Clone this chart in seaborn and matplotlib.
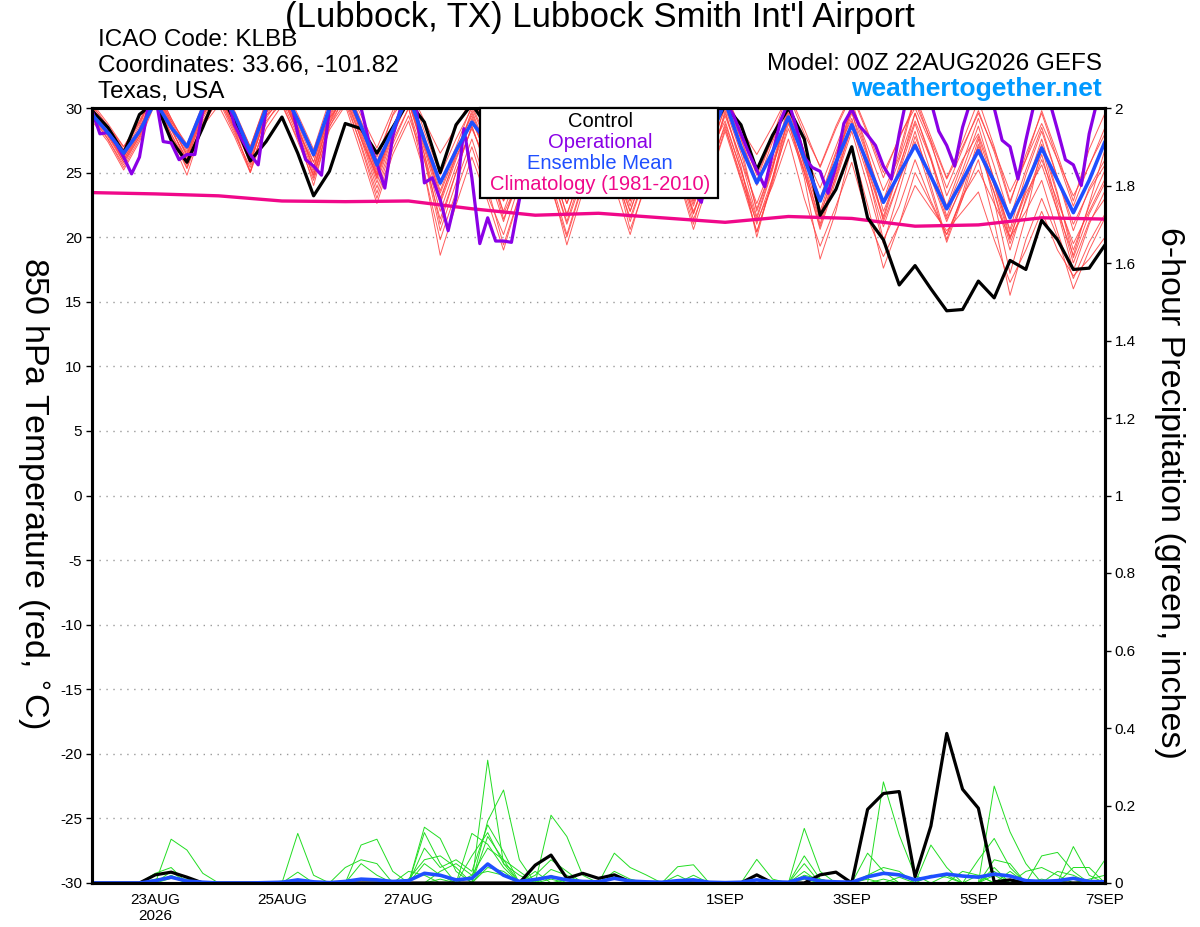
import numpy as np
import pandas as pd
import matplotlib
matplotlib.use("Agg")
import matplotlib.pyplot as plt
from matplotlib.patches import Rectangle
import seaborn as sns

# ---- data ----
start = "2026-08-22 00:00"

# control run, 6-hourly 850 hPa temperature (C)
control_t = [29.8, 28.5, 26.5, 29.5, 30.5, 27.5, 25.8, 28.5, 31.5, 29.0, 25.9, 27.4, 29.3, 26.5, 23.2, 25.1,
             28.8, 28.4, 26.5, 28.5, 30.5, 28.9, 25.0, 28.7, 30.3, 28.5, 26.0, 28.5, 30.5, 29.0, 26.0, 28.0,
             30.5, 29.0, 25.5, 28.0, 30.5, 29.0, 25.5, 28.0, 30.2, 28.7, 25.2, 27.9, 30.0, 27.6, 21.7, 23.7,
             27.0, 21.5, 19.8, 16.3, 17.8, 16.0, 14.3, 14.4, 16.6, 15.3, 18.2, 17.5, 21.3, 19.8, 17.5, 17.6,
             19.4]

# ensemble mean, 6-hourly
mean_t = [29.5, 28.1, 26.5, 28.2, 30.5, 28.5, 27.0, 30.0, 31.5, 29.5, 26.6, 30.0, 31.5, 29.1, 26.4, 30.0,
          31.5, 28.6, 25.6, 28.3, 31.0, 27.5, 24.2, 26.7, 28.9, 27.3, 25.5, 27.5, 29.5, 28.0, 25.5, 27.5,
          30.0, 28.0, 25.5, 27.5, 30.0, 28.0, 25.5, 27.5, 30.5, 27.0, 24.2, 26.6, 29.3, 26.1, 22.8, 25.8,
          28.7, 25.7, 22.7, 24.9, 27.1, 24.7, 22.2, 24.4, 26.7, 24.3, 21.5, 24.0, 26.9, 24.4, 21.9, 24.4,
          27.4]

# operational run, 3-hourly
oper_t = [29.8, 28.0, 28.1, 27.3, 26.2, 24.9, 26.2, 29.8, 31.0, 27.4, 27.3, 26.0, 26.4, 26.4, 29.8, 31.0,
          31.5, 31.0, 28.7, 27.5, 26.4, 25.6, 30.0, 31.0, 31.5, 31.0, 28.0, 26.0, 25.5, 24.8, 30.0, 31.0,
          31.5, 31.0, 30.0, 27.4, 25.7, 23.8, 27.8, 30.0, 31.0, 30.0, 24.2, 24.6, 22.9, 20.5, 23.1, 28.4,
          24.6, 19.5, 21.5, 19.7, 19.7, 19.6, 22.9, 26.0, 29.5, 29.0, 27.5, 25.5, 24.5, 25.0, 27.0, 29.0,
          30.5, 30.0, 28.5, 26.5, 25.0, 25.5, 27.5, 29.5, 31.0, 30.5, 28.0, 25.5, 23.5, 22.7, 26.0, 29.5,
          30.5, 29.5, 28.0, 26.5, 25.2, 23.9, 26.5, 29.0, 30.5, 28.5, 26.2, 25.4, 25.1, 23.4, 25.5, 28.8,
          29.9, 28.6, 27.9, 27.1, 25.5, 24.5, 28.0, 31.0, 32.0, 31.5, 30.5, 28.2, 27.1, 25.5, 28.5, 30.5,
          31.5, 31.0, 30.0, 27.5, 27.0, 24.5, 27.5, 30.2, 31.5, 30.5, 28.3, 26.0, 25.6, 24.0, 28.0, 30.5,
          31.0]

# climatology 1981-2010, daily
clim_t = [23.45, 23.35, 23.2, 22.8, 22.75, 22.8, 22.2, 21.7, 21.85, 21.5, 21.15, 21.6, 21.45, 20.85,
          20.95, 21.5, 21.4]

# ensemble members, 6-hourly
member_t = [
    [30.2, 28.6, 27.0, 28.9, 31.5, 29.0, 27.2, 30.3, 32.0, 29.8, 27.0, 30.5, 32.0, 29.5, 26.8, 30.6,
     32.2, 29.4, 26.9, 29.8, 31.6, 29.0, 26.5, 28.5, 30.8, 28.5, 25.8, 28.0, 30.5, 28.6, 25.0, 28.4,
     31.0, 28.8, 25.6, 28.2, 30.6, 28.0, 24.8, 28.5, 31.2, 28.4, 26.4, 28.6, 31.0, 28.0, 25.5, 28.6,
     31.2, 28.2, 25.0, 27.6, 30.4, 27.5, 24.5, 27.0, 29.6, 26.8, 23.5, 26.0, 28.8, 26.0, 23.2, 25.5, 28.5],
    [29.0, 27.4, 25.2, 27.4, 30.4, 27.8, 25.3, 28.6, 30.8, 28.2, 25.1, 29.0, 30.4, 27.4, 24.4, 28.3,
     30.2, 26.5, 22.6, 26.4, 29.0, 25.0, 19.8, 23.5, 27.0, 23.2, 20.2, 24.1, 28.0, 25.0, 21.0, 24.6,
     28.5, 25.0, 21.5, 25.0, 28.2, 25.5, 21.8, 25.2, 28.6, 24.5, 21.2, 24.0, 27.6, 23.0, 19.3, 22.4,
     25.8, 21.5, 18.5, 21.0, 24.0, 22.2, 20.5, 22.0, 23.5, 19.8, 16.5, 19.0, 22.0, 19.0, 17.0, 18.3, 20.0],
    [29.6, 27.9, 26.0, 28.0, 31.0, 28.3, 26.0, 29.4, 31.4, 28.9, 25.6, 29.6, 31.2, 28.5, 25.2, 29.3,
     31.6, 28.0, 24.5, 28.0, 30.5, 26.4, 22.0, 25.5, 28.4, 25.6, 23.0, 26.5, 29.2, 26.2, 22.6, 25.8,
     29.8, 27.2, 23.8, 27.0, 30.2, 27.4, 23.0, 26.8, 30.0, 26.5, 22.2, 25.5, 29.6, 25.5, 21.0, 25.3,
     30.6, 26.5, 22.0, 25.0, 28.8, 25.0, 21.4, 24.0, 27.0, 23.5, 19.5, 22.8, 26.0, 22.8, 19.5, 22.0, 24.5],
    [30.0, 28.4, 26.6, 28.6, 31.8, 29.2, 26.8, 30.0, 32.2, 29.4, 26.4, 30.0, 31.5, 28.0, 24.0, 28.5,
     31.0, 27.6, 23.8, 27.5, 30.0, 25.0, 18.6, 22.5, 26.2, 22.8, 19.0, 23.2, 27.5, 24.4, 20.2, 24.2,
     29.0, 26.0, 22.4, 26.5, 30.8, 27.8, 24.0, 27.6, 31.3, 28.0, 24.8, 27.6, 30.6, 26.6, 22.8, 26.4,
     29.2, 25.4, 21.6, 25.5, 29.0, 26.0, 22.4, 25.8, 29.2, 25.5, 21.5, 25.2, 28.5, 24.6, 20.5, 23.8, 26.0],
    [29.4, 27.6, 25.6, 27.8, 30.8, 28.0, 25.8, 28.8, 30.6, 28.0, 25.4, 28.8, 30.8, 28.2, 25.8, 29.5,
     31.4, 28.6, 25.2, 28.4, 30.6, 27.0, 23.4, 26.5, 29.6, 26.4, 21.8, 24.5, 27.6, 24.2, 19.4, 23.5,
     27.4, 24.0, 20.2, 24.4, 28.8, 25.6, 22.4, 26.0, 29.4, 26.0, 22.6, 25.8, 29.8, 26.5, 23.8, 27.0,
     30.2, 27.0, 23.6, 26.2, 30.8, 27.4, 23.2, 26.0, 28.0, 24.5, 20.4, 23.6, 27.2, 23.2, 19.0, 22.4, 25.2],
    [30.4, 28.8, 27.0, 29.0, 31.6, 29.2, 27.0, 30.2, 31.8, 29.6, 27.0, 30.4, 31.6, 28.8, 25.8, 29.8,
     31.8, 28.8, 25.8, 29.5, 31.8, 28.2, 24.8, 27.6, 30.0, 27.2, 24.6, 27.2, 30.6, 27.6, 24.4, 27.6,
     30.5, 27.0, 23.4, 26.8, 29.8, 26.5, 22.8, 26.2, 30.2, 27.0, 22.0, 25.5, 29.0, 24.6, 18.3, 22.0,
     27.0, 22.5, 17.6, 21.0, 25.0, 22.6, 20.2, 23.0, 26.0, 21.2, 15.5, 19.8, 23.0, 20.0, 16.0, 19.0, 21.5],
    [29.8, 28.2, 26.2, 28.2, 31.2, 28.6, 25.6, 29.2, 31.2, 28.4, 25.0, 29.2, 31.0, 28.0, 24.6, 28.8,
     30.8, 27.0, 23.0, 26.8, 29.4, 26.0, 21.4, 25.0, 28.6, 25.2, 22.0, 25.4, 28.8, 25.4, 21.8, 25.2,
     29.0, 25.4, 20.6, 24.0, 28.4, 25.0, 21.0, 25.4, 29.8, 25.5, 20.0, 24.6, 28.4, 25.0, 20.6, 24.4,
     28.2, 24.0, 19.5, 23.6, 27.8, 24.6, 21.2, 24.2, 26.8, 23.4, 19.0, 23.0, 26.4, 22.0, 17.4, 21.0, 23.6],
    [30.0, 28.4, 26.4, 28.4, 31.0, 28.6, 26.4, 29.8, 31.6, 29.0, 26.0, 29.6, 31.8, 29.0, 26.2, 30.0,
     32.0, 29.0, 26.2, 29.4, 31.2, 27.8, 24.0, 27.0, 30.2, 27.4, 24.6, 27.4, 30.0, 27.4, 24.0, 27.0,
     30.8, 27.8, 24.5, 27.8, 31.0, 28.0, 25.0, 27.2, 30.6, 27.6, 24.4, 27.8, 31.2, 28.4, 25.4, 28.4,
     31.0, 28.0, 24.6, 27.8, 30.0, 27.2, 23.8, 26.8, 29.8, 26.6, 22.6, 26.4, 29.6, 26.0, 22.4, 25.6, 28.0],
    [29.2, 27.6, 25.4, 27.6, 30.6, 27.6, 24.8, 28.6, 30.2, 27.8, 25.0, 28.4, 30.2, 27.6, 24.8, 28.6,
     30.4, 27.2, 23.4, 27.2, 30.0, 26.0, 20.5, 24.2, 27.6, 23.8, 19.4, 23.2, 27.0, 23.8, 20.0, 24.0,
     28.4, 25.2, 22.0, 25.6, 28.8, 24.8, 20.6, 24.5, 28.4, 24.8, 20.4, 24.4, 29.2, 25.0, 20.8, 24.8,
     28.6, 24.8, 20.8, 24.4, 28.2, 24.0, 19.8, 23.4, 27.6, 22.8, 17.2, 21.6, 27.0, 22.4, 18.0, 21.2, 23.0],
    [29.6, 28.0, 26.2, 28.4, 31.4, 29.0, 26.6, 29.8, 31.8, 29.2, 26.6, 30.0, 31.4, 28.6, 25.4, 29.0,
     31.2, 27.8, 24.2, 27.8, 30.8, 26.4, 21.0, 25.0, 28.6, 25.0, 21.2, 25.0, 29.4, 26.0, 21.6, 25.8,
     29.6, 26.4, 22.8, 26.6, 29.4, 26.4, 23.2, 26.6, 29.0, 25.2, 21.4, 25.2, 30.4, 26.4, 21.6, 25.6,
     30.0, 26.4, 22.6, 26.0, 29.6, 26.2, 22.2, 25.2, 28.6, 24.4, 20.0, 23.4, 25.6, 22.0, 18.6, 22.6, 26.8],
    [30.0, 28.2, 26.0, 28.2, 31.2, 28.8, 26.4, 29.6, 31.0, 28.8, 26.6, 30.2, 32.0, 29.2, 26.2, 29.2,
     30.8, 27.6, 24.8, 28.6, 31.2, 27.6, 23.0, 26.2, 29.0, 26.2, 23.4, 26.6, 30.2, 26.8, 23.2, 26.4,
     29.6, 26.0, 22.0, 25.6, 29.2, 25.8, 21.8, 25.6, 29.6, 26.0, 21.6, 25.4, 30.0, 26.2, 22.0, 25.8,
     29.6, 26.2, 21.2, 24.4, 27.4, 23.6, 19.6, 23.0, 27.2, 24.0, 20.6, 24.8, 28.2, 24.6, 21.0, 23.6, 25.6],
    [29.8, 28.0, 25.8, 27.8, 30.6, 28.0, 25.4, 29.0, 30.8, 28.4, 25.8, 29.4, 30.6, 27.8, 24.8, 28.8,
     31.4, 28.4, 25.0, 28.6, 30.4, 26.8, 22.6, 26.0, 29.2, 26.0, 22.8, 26.2, 29.6, 26.4, 23.0, 26.4,
     30.2, 27.0, 23.2, 26.0, 29.0, 25.4, 21.4, 24.4, 28.2, 24.4, 20.4, 24.2, 28.8, 25.2, 21.4, 24.6,
     28.6, 25.6, 22.8, 26.6, 31.0, 27.8, 24.6, 27.4, 30.6, 27.0, 22.8, 26.0, 29.8, 26.4, 22.8, 26.8, 29.6],
    [30.2, 28.6, 26.8, 28.8, 31.4, 28.8, 26.2, 29.6, 31.0, 28.6, 25.8, 29.4, 31.2, 28.4, 25.4, 29.6,
     32.0, 28.6, 24.8, 28.2, 31.0, 27.2, 22.8, 26.4, 29.8, 26.6, 22.8, 25.8, 28.6, 25.8, 22.6, 26.2,
     29.0, 25.6, 21.2, 25.0, 29.6, 26.4, 22.6, 26.4, 31.0, 27.6, 24.0, 27.4, 30.4, 26.6, 23.0, 26.6,
     29.8, 25.0, 19.8, 22.4, 26.0, 22.8, 20.2, 23.2, 25.2, 22.6, 20.0, 22.0, 24.4, 20.4, 16.8, 19.6, 21.8],
    [29.4, 27.8, 25.8, 28.0, 30.8, 28.4, 26.0, 29.4, 31.4, 29.0, 26.2, 29.8, 31.0, 28.2, 25.0, 29.2,
     31.2, 28.2, 24.6, 28.4, 31.0, 27.4, 23.6, 26.8, 29.4, 26.0, 21.4, 24.4, 28.4, 25.0, 21.2, 25.0,
     29.4, 26.2, 22.8, 26.4, 29.8, 26.0, 22.0, 25.0, 28.8, 25.2, 21.0, 24.6, 29.4, 25.6, 21.8, 25.0,
     29.0, 25.2, 21.4, 25.2, 29.6, 26.0, 21.6, 24.8, 27.8, 24.0, 19.8, 23.8, 27.6, 23.4, 18.4, 21.8, 24.2],
]

# 6-hour precipitation (inches)
control_p = [0, 0, 0, 0, .021, .028, .015, 0, 0, 0,
             0, 0, 0, 0, 0, 0, 0, 0, 0, 0,
             0, 0, 0, 0, 0, 0, 0, 0, .046, .072,
             .012, .025, .012, .021, .003, 0, 0, 0, 0, 0,
             0, 0, .021, 0, 0, 0, .021, .028, 0, .19,
             .231, .236, .016, .147, .386, .242, .193, .003, .008, 0,
             0, 0, 0, 0, 0]

mean_p = [0, 0, 0, 0, .006, .015, .005, .002, 0, 0,
          0, .001, .002, .008, .003, .001, .004, .01, .008, .004,
          .006, .025, .02, .008, .012, .049, .02, .004, .009, .016,
          .008, .004, .003, .012, .005, .003, .002, .006, .008, .002,
          .001, .002, .008, .003, .002, .014, .005, .003, .002, .016,
          .025, .021, .008, .016, .023, .018, .015, .023, .018, .006,
          .004, .006, .012, .004, .003]

member_p = [
    [0, 0, 0, 0, 0, .113, .085, .025, 0, 0,
     0, 0, 0, 0, 0, 0, 0, 0, 0, 0,
     0, .144, .115, .03, 0, .317, .05, 0, 0, .175,
     .12, .02, 0, 0, 0, 0, 0, 0, 0, 0,
     0, 0, 0, 0, 0, 0, 0, 0, 0, 0,
     .261, .124, .02, 0, 0, 0, 0, .03, 0, 0,
     0, 0, 0, 0, 0],
    [0, 0, 0, 0, .025, .04, 0, 0, 0, 0,
     0, 0, 0, .128, .02, 0, 0, 0, 0, 0,
     0, 0, 0, 0, 0, .16, .24, .06, 0, 0,
     0, 0, 0, .077, .04, .021, 0, 0, 0, 0,
     0, 0, 0, 0, 0, .141, .03, 0, 0, 0,
     0, 0, 0, 0, 0, 0, 0, .25, .132, .05,
     0, 0, 0, 0, 0],
    [0, 0, 0, 0, 0, 0, 0, 0, 0, 0,
     0, 0, 0, 0, 0, 0, 0, .098, .113, .03,
     0, .13, .05, 0, .128, .10, .04, 0, 0, 0,
     0, 0, 0, 0, 0, 0, 0, .042, .047, 0,
     0, 0, 0, 0, 0, 0, 0, 0, 0, .077,
     .03, 0, 0, 0, 0, 0, 0, 0, 0, 0,
     0, 0, .094, .02, 0],
    [0, 0, 0, 0, 0, .03, 0, 0, 0, 0,
     0, 0, 0, .028, 0, 0, 0, .05, .02, 0,
     0, .09, .04, .06, .03, .15, .08, 0, .02, .06,
     .03, 0, 0, 0, 0, 0, 0, 0, 0, 0,
     0, 0, .061, .01, 0, 0, 0, 0, 0, 0,
     0, 0, 0, .098, .04, 0, 0, 0, 0, 0,
     .07, .079, .03, 0, 0],
    [0, 0, 0, 0, 0, .02, 0, 0, 0, 0,
     0, 0, 0, 0, 0, 0, .04, .06, .05, 0,
     .01, .06, .07, .04, 0, .12, .06, .03, 0, .035,
     .02, 0, 0, 0, 0, 0, 0, 0, 0, 0,
     0, 0, 0, 0, 0, .07, .01, 0, 0, 0,
     0, 0, 0, 0, 0, 0, .06, .115, .04, 0,
     0, 0, 0, 0, .06],
    [0, 0, 0, 0, 0, 0, 0, 0, 0, 0,
     0, 0, 0, 0, 0, 0, 0, 0, 0, 0,
     0, 0, .03, .05, .02, .09, .06, 0, .03, 0,
     0, 0, 0, .03, .01, 0, 0, 0, 0, 0,
     0, 0, 0, 0, 0, .05, 0, 0, 0, .02,
     .04, .03, 0, 0, 0, .03, .02, 0, 0, .03,
     .04, .02, 0, .01, .02],
    [0, 0, 0, 0, 0, 0, 0, 0, 0, 0,
     0, 0, 0, 0, 0, 0, 0, 0, 0, 0,
     0, .05, .02, 0, .07, .13, .05, .02, 0, 0,
     .01, 0, 0, 0, 0, 0, 0, 0, .02, 0,
     0, 0, 0, 0, 0, .02, .01, 0, 0, 0,
     0, .015, 0, 0, .02, 0, 0, .06, .05, 0,
     0, 0, .04, .04, 0],
    [0, 0, 0, 0, .01, .015, 0, 0, 0, 0,
     0, 0, .005, 0, 0, 0, 0, 0, 0, 0,
     .03, .02, 0, 0, 0, .04, .03, 0, 0, .02,
     0, 0, 0, .02, 0, 0, 0, .02, 0, 0,
     0, 0, .02, 0, 0, 0, 0, 0, 0, .01,
     0, 0, 0, .02, .015, 0, .02, 0, .03, 0,
     0, .03, .02, 0, 0],
    [0, 0, 0, 0, 0, .012, .01, 0, 0, 0,
     0, 0, 0, 0, 0, 0, 0, 0, 0, 0,
     0, 0, .01, 0, 0, .05, .02, 0, 0, .01,
     0, 0, 0, 0, 0, 0, 0, 0, 0, 0,
     0, 0, 0, 0, 0, .01, 0, 0, 0, 0,
     .01, 0, 0, 0, 0, 0, 0, .02, 0, 0,
     .01, 0, 0, 0, 0],
    [0, 0, 0, 0, 0, 0, 0, 0, 0, 0,
     0, 0, 0, 0, 0, 0, 0, 0, 0, 0,
     0, 0, 0, 0, .02, .03, .02, 0, 0, 0,
     0, 0, 0, 0, 0, 0, 0, 0, 0, 0,
     0, 0, 0, 0, 0, .03, 0, 0, 0, 0,
     0, 0, 0, 0, 0, 0, 0, .04, 0, 0,
     0, 0, .01, 0, 0],
]

tick_dates = ["2026-08-23", "2026-08-25", "2026-08-27", "2026-08-29",
              "2026-09-01", "2026-09-03", "2026-09-05", "2026-09-07"]
tick_labels = ["23AUG\n2026", "25AUG", "27AUG", "29AUG", "1SEP", "3SEP", "5SEP", "7SEP"]

t6 = pd.date_range(start, periods=len(control_t), freq="6h")
t3 = pd.date_range(start, periods=len(oper_t), freq="3h")
t24 = pd.date_range(start, periods=len(clim_t), freq="1D")

# ---- style ----
sns.set_style("white")
plt.rcParams["font.family"] = ["Liberation Sans", "DejaVu Sans"]
plt.rcParams["axes.unicode_minus"] = False   # plain hyphen like the original
plt.rcParams["text.color"] = "black"
plt.rcParams["xtick.color"] = "black"
plt.rcParams["ytick.color"] = "black"

RED = "#ff4040"
GREEN = "#22dd22"
PURPLE = "#8a00e6"
BLUE = "#1f4fff"
PINK = "#f0088a"

fig = plt.figure(figsize=(12, 9.27), dpi=100)
ax = fig.add_axes([92 / 1200, 44 / 927, 1013 / 1200, 775 / 927])
ax2 = ax.twinx()

# temperature lines
for m in member_t:
    sns.lineplot(x=t6, y=m, ax=ax, color=RED, lw=0.7, alpha=0.85, legend=False)
sns.lineplot(x=t24, y=clim_t, ax=ax, color=PINK, lw=2.4, legend=False)
sns.lineplot(x=t6, y=control_t, ax=ax, color="black", lw=2.3, legend=False)
sns.lineplot(x=t3, y=oper_t, ax=ax, color=PURPLE, lw=2.3, legend=False)
sns.lineplot(x=t6, y=mean_t, ax=ax, color=BLUE, lw=2.6, legend=False)

# precipitation lines
for m in member_p:
    sns.lineplot(x=t6, y=m, ax=ax2, color=GREEN, lw=0.7, legend=False)
sns.lineplot(x=t6, y=control_p, ax=ax2, color="black", lw=2.3, legend=False)
sns.lineplot(x=t6, y=mean_p, ax=ax2, color=BLUE, lw=2.6, legend=False)

ax.set_xlim(pd.Timestamp("2026-08-22"), pd.Timestamp("2026-09-07"))
ax.set_ylim(-30, 30)
ax2.set_ylim(0, 2)

ax.set_yticks(np.arange(-30, 31, 5))
ax.yaxis.grid(True, ls=(0, (1, 4)), color="#9a9a9a", lw=1.0)
ax.xaxis.grid(False)
ax2.set_yticks(np.arange(0, 2.01, 0.2))
ax2.set_yticklabels(["0", "0.2", "0.4", "0.6", "0.8", "1", "1.2", "1.4", "1.6", "1.8", "2"])
ax2.grid(False)

ax.set_xticks(pd.to_datetime(tick_dates))
ax.set_xticklabels(tick_labels)
ax.set_xlabel("")
ax.set_ylabel("")

for a in (ax, ax2):
    for s in a.spines.values():
        s.set_linewidth(2.2)
        s.set_color("black")
ax.tick_params(axis="both", labelsize=11, length=4, width=1, direction="out", color="black", pad=3)
ax2.tick_params(axis="y", labelsize=11, length=4, width=1, direction="out", color="black", pad=3)

# legend box
ax2.add_patch(Rectangle((0.383, 0.884), 0.235, 0.116, transform=ax2.transAxes,
                        facecolor="white", edgecolor="black", lw=1.6, zorder=20, clip_on=False))
for y, txt, col in [(0.983, "Control", "black"), (0.956, "Operational", PURPLE),
                    (0.929, "Ensemble Mean", BLUE), (0.901, "Climatology (1981-2010)", PINK)]:
    ax2.text(0.5015, y, txt, color=col, fontsize=14.5, ha="center", va="center",
             transform=ax2.transAxes, zorder=21)

# header
fig.text(0.5, 1 - 18 / 927, "(Lubbock, TX) Lubbock Smith Int'l Airport", fontsize=25,
         ha="center", va="center")
fig.text(98 / 1200, 1 - 40 / 927, "ICAO Code: KLBB", fontsize=17.5, ha="left", va="center")
fig.text(98 / 1200, 1 - 66 / 927, "Coordinates: 33.66, -101.82", fontsize=17.5, ha="left", va="center")
fig.text(98 / 1200, 1 - 92 / 927, "Texas, USA", fontsize=17.5, ha="left", va="center")
fig.text(1102 / 1200, 1 - 64 / 927, "Model: 00Z 22AUG2026 GEFS", fontsize=17.5, ha="right", va="center")
fig.text(1102 / 1200, 1 - 89 / 927, "weathertogether.net", fontsize=19, fontweight="bold",
         color="#0099ff", ha="right", va="center")

# both axis titles read top to bottom
fig.text(32 / 1200, 1 - 493 / 927, "850 hPa Temperature (red, $^{\\circ}$C)", fontsize=24.5,
         rotation=-90, ha="center", va="center")
fig.text(1170 / 1200, 1 - 493 / 927, "6-hour Precipitation (green, inches)", fontsize=24.5,
         rotation=-90, ha="center", va="center")

fig.savefig("out.png", dpi=100)
